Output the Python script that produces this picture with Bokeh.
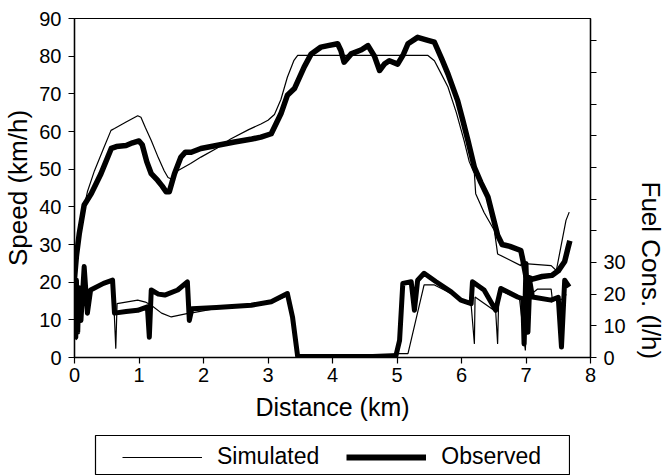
from bokeh.plotting import figure
from bokeh.layouts import column
from bokeh.models import (Range1d, LinearAxis, FixedTicker, Legend, LegendItem, Title)
from bokeh.embed import file_html
from bokeh.resources import INLINE

# ---- data ----
dist_sim_speed = [0.0, 0.05, 0.1, 0.2, 0.31, 0.45, 0.566, 0.62, 0.8, 0.98, 1.03, 1.1, 1.19, 1.3,
                  1.39, 1.45, 1.5, 1.6, 1.8, 1.96, 2.2, 2.42, 2.7, 2.89, 3.0, 3.1, 3.2, 3.3, 3.4,
                  3.46, 5.48, 5.58, 5.68, 5.79, 5.92, 6.04, 6.12, 6.2, 6.22, 6.35, 6.51, 6.56,
                  6.92, 6.93, 7.39, 7.47, 7.54, 7.62, 7.67]
sim_speed = [21, 30, 36, 44, 49.6, 55.5, 60.3, 60.8, 62.5, 64.2, 63.8, 61, 57.6, 53,
             49.6, 47.8, 47.4, 49.6, 51.5, 53.2, 55.5, 58, 60.5, 62, 63, 64.5, 68.5, 74.4, 78.8,
             80.2, 80.2, 78.8, 75.5, 71.8, 65, 57.6, 52, 48.8, 43.5, 38.5, 33.7, 27.5,
             24.4, 25.0, 24.4, 23.1, 29.3, 36.4, 38.6]

dist_obs_speed = [0.0, 0.03, 0.075, 0.15, 0.26, 0.41, 0.57, 0.65, 0.8, 0.9, 1.0, 1.05, 1.12, 1.19,
                  1.29, 1.36, 1.42, 1.47, 1.55, 1.65, 1.72, 1.81, 1.96, 2.2, 2.48, 2.75, 2.89,
                  3.05, 3.2, 3.3, 3.41, 3.56, 3.67, 3.82, 3.93, 4.08, 4.13, 4.18, 4.29, 4.45,
                  4.55, 4.65, 4.73, 4.81, 4.88, 5.01, 5.1, 5.17, 5.32, 5.48, 5.58, 5.7, 5.79,
                  5.94, 6.02, 6.10, 6.2, 6.3, 6.41, 6.5, 6.56, 6.63, 6.75, 6.92, 6.95, 7.0,
                  7.1, 7.25, 7.4, 7.5, 7.6, 7.65, 7.68]
obs_speed = [21, 27, 33, 40.5, 43.5, 48.8, 55.5, 56, 56.3, 57, 57.5, 56.5, 52, 48.8,
             47, 45.5, 44, 44, 48.8, 53.2, 54.5, 54.5, 55.5, 56.3, 57.2, 58, 58.5,
             59.4, 64.7, 69.6, 71.4, 77.1, 80.6, 82.4, 82.8, 83.3, 81.5, 78.4, 80.6, 81.7,
             82.8, 80, 76.2, 78, 78.8, 77.9, 80.5, 83.3, 85.0, 84.2, 83.7, 79, 75.3,
             68.2, 63, 57.6, 50.5, 46.5, 42.6, 36.5, 32.5, 30, 29.5, 28.4, 26, 21.5,
             20.8, 21.5, 21.8, 23, 25.5, 29, 31]

dist_sim_fuel = [0.0, 0.02, 0.05, 0.1, 0.15, 0.2, 0.25, 0.45, 0.59, 0.61, 0.64, 0.66, 0.98, 1.1,
                 1.19, 1.35, 1.5, 1.76, 1.8, 2.2, 2.74, 3.05, 3.3, 3.38, 3.46, 5.01, 5.17, 5.42,
                 5.58, 5.84, 6.15, 6.2, 6.21, 6.53, 6.56, 6.58, 6.9, 6.99, 7.02, 7.18, 7.39,
                 7.41, 7.6, 7.62]
sim_fuel = [6, 22, 10, 12, 26, 14, 21, 23, 24, 17, 2.8, 17, 18.1, 17.5,
            16.5, 14, 12.8, 13.9, 14, 15.5, 16.3, 17.3, 19.5, 12.5, 0, 1.2, 1.2, 22.9,
            22.9, 20.2, 16.5, 4.3, 19.1, 14.5, 4.3, 21.3, 18.5, 2.2, 19, 21.6, 21.6,
            18, 18.5, 20]

dist_obs_fuel = [0.0, 0.02, 0.03, 0.05, 0.07, 0.1, 0.15, 0.2, 0.25, 0.45, 0.59, 0.62, 0.8, 0.98,
                 1.13, 1.16, 1.19, 1.3, 1.4, 1.6, 1.75, 1.78, 1.82, 2.2, 2.74, 3.05, 3.3, 3.38,
                 3.46, 4.98, 5.04, 5.09, 5.22, 5.27, 5.32, 5.42, 5.6, 5.84, 5.99, 6.15, 6.17,
                 6.35, 6.53, 6.61, 6.87, 6.95, 6.97, 7.0, 7.03, 7.06, 7.1, 7.39, 7.5, 7.55,
                 7.6, 7.67]
obs_fuel = [6, 6.4, 24.4, 8, 22, 11.7, 28.7, 14, 21.3, 23.4, 24.4, 14, 14.5, 14.9,
            16, 6.4, 21.3, 20, 19.7, 21.3, 23.9, 11.7, 15.4, 15.8, 16.5, 17.6, 20.2, 12.8,
            0.3, 0.3, 5.4, 23.4, 23.9, 14.9, 24.4, 26.6, 24, 20.7, 18.1, 17, 23.9,
            21.3, 14.9, 21.8, 19.1, 18.5, 4.3, 29.7, 8, 24, 19.1, 18.1, 19, 3.3,
            24.4, 22.3]

speed_ticks = [0, 10, 20, 30, 40, 50, 60, 70, 80, 90]
dist_ticks = [0, 1, 2, 3, 4, 5, 6, 7, 8]
fuel_ticks = [0, 10, 20, 30, 40, 50, 60, 70, 80, 90, 100]
fuel_labelled = [0, 10, 20, 30]

FONT = "Liberation Sans"

p = figure(frame_width=516, frame_height=339, output_backend="svg", toolbar_location=None,
           x_range=Range1d(0, 8), y_range=Range1d(0, 90), frame_align=False,
           min_border_left=73, min_border_right=30, min_border_top=18, min_border_bottom=74)
p.extra_y_ranges = {"fuel": Range1d(0, 107)}
p.grid.visible = False
p.outline_line_color = "black"
p.outline_line_width = 1.2
p.background_fill_color = "white"
p.border_fill_color = "white"

def style_axis(ax, title_size="25px"):
    ax.axis_line_color = "black"
    ax.axis_line_width = 1.4
    ax.major_tick_line_color = "black"
    ax.major_tick_line_width = 1.2
    ax.major_tick_out = 6
    ax.major_tick_in = 0
    ax.minor_tick_line_color = None
    ax.major_label_text_font = FONT
    ax.major_label_text_font_size = "20px"
    ax.major_label_text_color = "black"
    ax.axis_label_text_font = FONT
    ax.axis_label_text_font_size = title_size
    ax.axis_label_text_font_style = "normal"
    ax.axis_label_text_color = "black"

style_axis(p.xaxis[0], "25px")
style_axis(p.yaxis[0], "26px")
p.xaxis.ticker = FixedTicker(ticks=dist_ticks)
p.yaxis.ticker = FixedTicker(ticks=speed_ticks)
p.xaxis.axis_label = "Distance (km)"
p.yaxis.axis_label = "Speed (km/h)"
p.xaxis.major_label_standoff = 4
p.yaxis.major_label_standoff = 7
p.xaxis.axis_label_standoff = 8
p.yaxis.axis_label_standoff = 3

raxis = LinearAxis(y_range_name="fuel", ticker=FixedTicker(ticks=fuel_ticks))
style_axis(raxis)
raxis.major_label_standoff = 7
raxis.major_label_overrides = {t: "" for t in fuel_ticks if t not in fuel_labelled}
p.add_layout(raxis, "right")

p.add_layout(Title(text="Fuel Cons. (l/h)", align="left", offset=163, standoff=14,
                   text_font=FONT, text_font_size="26px", text_font_style="normal",
                   text_color="black"), "right")

p.line(dist_sim_speed, sim_speed, line_color="black", line_width=1.2)
p.line(dist_obs_speed, obs_speed, line_color="black", line_width=5.5, line_join="round")
p.line(dist_sim_fuel, sim_fuel, y_range_name="fuel", line_color="black", line_width=1.2)
p.line(dist_obs_fuel, obs_fuel, y_range_name="fuel", line_color="black", line_width=5,
       line_join="round")

# ---- legend box (separate strip below the chart) ----
# the legend proxies reuse the series, but the strip's y-range lies below all values,
# so only their legend glyphs are seen
lg = figure(frame_width=475, frame_height=40, output_backend="svg", toolbar_location=None,
            x_range=Range1d(0, 8), y_range=Range1d(-20, -10), frame_align=False,
            x_axis_location=None, y_axis_location=None,
            min_border_left=95, min_border_right=0, min_border_top=4, min_border_bottom=0)
lg.grid.visible = False
lg.outline_line_color = "black"
lg.outline_line_width = 1.2
lg.border_fill_color = "white"
l_sim = lg.line(dist_sim_speed, sim_speed, line_color="black", line_width=1.2)
l_obs = lg.line(dist_obs_speed, obs_speed, line_color="black", line_width=6)
legend = Legend(items=[LegendItem(label="Simulated", renderers=[l_sim]),
                       LegendItem(label="Observed", renderers=[l_obs])],
                orientation="horizontal", location=(27, 5),
                glyph_width=80, glyph_height=26, label_height=26, label_standoff=15,
                spacing=27, padding=0, margin=0, border_line_color=None,
                background_fill_alpha=0,
                label_text_font=FONT, label_text_font_size="23px", label_text_color="black")
lg.add_layout(legend, "center")

open("out.html", "w").write(file_html(column(p, lg), INLINE))
